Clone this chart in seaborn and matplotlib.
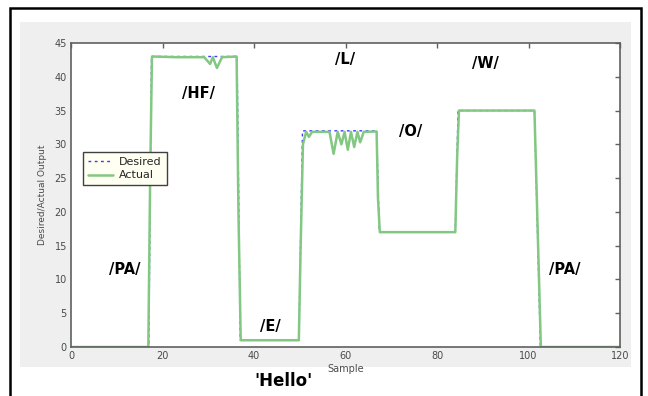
import matplotlib
matplotlib.use("Agg")
import matplotlib.pyplot as plt
from matplotlib.patches import Rectangle
import seaborn as sns

# Target (desired) output per sample: one level per phoneme
desired_x = [0, 17.0, 17.6, 36.3, 37.0, 49.8, 50.6, 66.8, 67.4, 84.0, 84.6, 101.3, 102.6, 120]
desired_y = [0, 0, 43, 43, 1, 1, 32, 32, 17, 17, 35, 35, 0, 0]

# Actual network output, following the target with some ripple on the plateaus
actual_x = [0, 16.9, 17.3, 17.7, 23.0, 29.1, 30.4, 31.0, 31.9, 33.0, 36.2, 36.6, 37.1,
            49.8, 50.2, 50.7, 51.4, 52.0, 52.7, 56.5, 57.4, 58.3, 59.1, 59.8, 60.5,
            61.2, 61.9, 62.6, 63.2, 64.0, 66.8, 67.1, 67.5, 84.0, 84.4, 84.8,
            101.3, 101.9, 102.7, 120]
actual_y = [0, 0, 25, 43, 42.9, 42.9, 41.9, 42.9, 41.3, 42.9, 43, 20, 1,
            1, 15, 30, 31.85, 31.1, 31.85, 31.85, 28.6, 31.85, 30.0, 31.85, 29.2,
            31.85, 29.6, 31.85, 30.3, 31.85, 31.9, 22, 17, 17, 28, 35,
            35, 20, 0, 0]

x_ticks = [0, 20, 40, 60, 80, 100, 120]
y_ticks = [0, 5, 10, 15, 20, 25, 30, 35, 40, 45]

phoneme_labels = ["/PA/", "/HF/", "/L/", "/W/", "/O/", "/E/", "/PA/"]
phoneme_x = [11.8, 27.8, 59.9, 90.5, 74.3, 43.5, 108.0]
phoneme_y = [11.4, 37.5, 42.5, 41.9, 31.9, 3.1, 11.4]

sns.set_style("white")
plt.rcParams["font.family"] = ["DejaVu Sans"]

fig = plt.figure(figsize=(6.48, 3.96), dpi=100)
fig.patch.set_facecolor("white")

# outer black frame and grey window panel, kept behind the axes
fig.patches.append(Rectangle((10 / 648, -0.05), 631 / 648, 1.05 - 8 / 396,
                             transform=fig.transFigure, fill=False,
                             edgecolor="black", linewidth=1.8, zorder=-2))
fig.patches.append(Rectangle((20 / 648, (396 - 367) / 396), 611 / 648, 345 / 396,
                             transform=fig.transFigure, facecolor="#efefef",
                             edgecolor="none", zorder=-2))

ax = fig.add_axes([71 / 648, 49 / 396, 549 / 648, 304 / 396])
ax.set_facecolor("white")

sns.lineplot(x=desired_x, y=desired_y, ax=ax, color="#3a3aff", linewidth=1.0,
             linestyle=(0, (2, 2.5)), estimator=None, sort=False, label="Desired")
sns.lineplot(x=actual_x, y=actual_y, ax=ax, color="#82c882", linewidth=1.8,
             estimator=None, sort=False, label="Actual")

ax.set_xlim(0, 120)
ax.set_ylim(0, 45)
ax.set_xticks(x_ticks)
ax.set_yticks(y_ticks)
ax.tick_params(direction="in", top=True, right=True, length=3.5, width=1,
               color="#606060", labelsize=7, labelcolor="#4a4a4a", pad=3)
for s in ax.spines.values():
    s.set_color("#606060")
    s.set_linewidth(1.2)

ax.set_xlabel("Sample", fontsize=7, color="#4a4a4a", labelpad=2)
ax.set_ylabel("Desired/Actual Output", fontsize=6.5, color="#4a4a4a", labelpad=5)

leg = ax.legend(loc="upper left", bbox_to_anchor=(0.022, 0.641), fontsize=8,
                frameon=True, fancybox=False, framealpha=1, facecolor="#fffff2",
                edgecolor="#404040", handlelength=2.2, borderpad=0.45,
                labelspacing=0.3, handletextpad=0.6, borderaxespad=0)
leg.get_frame().set_linewidth(1.0)

for txt, px, py in zip(phoneme_labels, phoneme_x, phoneme_y):
    ax.text(px, py, txt, ha="center", va="center", fontsize=10.5,
            fontweight="bold", color="black")

fig.text(283 / 648, 1 - 381 / 396, "'Hello'", ha="center", va="center",
         fontsize=12, fontweight="bold", color="black")

fig.savefig("out.png", dpi=100)
